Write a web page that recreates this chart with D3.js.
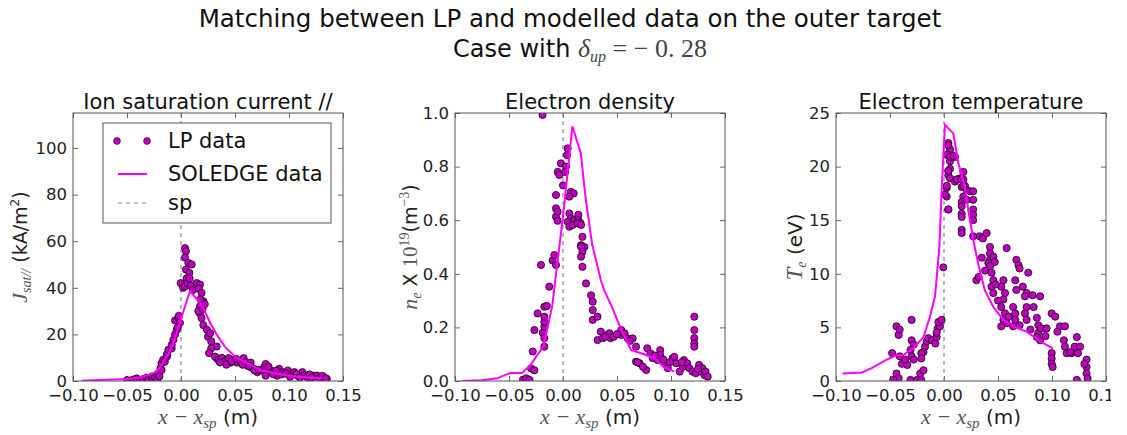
<!DOCTYPE html>
<html><head><meta charset="utf-8">
<script src="https://cdn.jsdelivr.net/npm/d3@7"></script>
<style>body{margin:0;background:#fff}svg{display:block}</style>
</head><body>
<svg id="c" width="1127" height="435"></svg>
<script>
// ---------------- DATA ----------------
const xTicks = [-0.10, -0.05, 0.00, 0.05, 0.10, 0.15];
const jsatTicks = [0, 20, 40, 60, 80, 100];
const neTicks = [0.0, 0.2, 0.4, 0.6, 0.8, 1.0];
const teTicks = [0, 5, 10, 15, 20, 25];
const panelTitles = ["Ion saturation current //", "Electron density", "Electron temperature"];
const legendLabels = ["LP data", "SOLEDGE data", "sp"];

// LP probe data, ion saturation current (x [m], kA/m^2)
const lpJsat = [
 [-0.050,0.4],[-0.046,0.3],[-0.044,0.6],[-0.041,1.1],[-0.038,0.4],[-0.035,0.8],[-0.032,1.4],[-0.030,0.5],
 [-0.027,1.9],[-0.026,1.1],[-0.024,1.5],[-0.022,0.6],[-0.021,3.3],[-0.020,2.0],[-0.019,5.5],[-0.018,4.7],
 [-0.018,7.6],[-0.0165,9.1],[-0.015,8.3],[-0.013,10.5],[-0.013,11.5],[-0.0117,13.4],[-0.0086,14],[-0.0086,15.5],
 [-0.007,17.7],[-0.0055,20],[-0.004,22],[-0.0055,26],[-0.0025,27],[-0.001,25],[-0.003,23],[-0.002,28],
 [-0.0003,42],[0.002,40],[0.0037,57],[0.0046,55.7],[0.0037,53],[0.0068,50.7],[0.0099,50],[0.0046,47.8],
 [0.0077,46.4],[0.0052,44],[0.0037,40.6],[0.006,42],[0.008,44],[0.009,41],[0.011,39],[0.0145,42],
 [0.0176,41.4],[0.0165,39.6],[0.019,37.8],[0.0207,34.2],[0.0176,32],[0.0176,29],[0.019,27],[0.0207,24],
 [0.016,30],[0.020,31],[0.022,33],[0.018,35],[0.024,22],[0.025,19],[0.027,20.5],[0.028,17],
 [0.033,14.8],[0.028,14],[0.026,12],[0.033,9.8],[0.038,9.8],[0.0315,10.5],[0.0346,9.1],[0.0377,9.8],
 [0.0408,8.4],[0.044,9.8],[0.046,7.9],[0.049,9.1],[0.052,7.9],[0.055,8.6],[0.058,9.8],[0.060,7.9],
 [0.0614,6.6],[0.0645,5.9],[0.0645,7.9],[0.0676,5.2],[0.0707,3.8],[0.074,4.5],[0.077,5.9],[0.0784,7.3],
 [0.080,5.2],[0.083,4.5],[0.0784,2.3],[0.086,3.8],[0.089,2.3],[0.091,5.2],[0.094,3.8],[0.099,4.5],
 [0.102,3.1],[0.105,3.8],[0.108,2.3],[0.1125,3.8],[0.114,2.3],[0.117,1.6],[0.123,2.3],[0.126,2.3],
 [0.129,1.6],[0.132,1.6],[0.135,0.9],[0.036,8.0],[0.042,7.0],[0.047,8.5],[0.051,9.5],[0.057,7.0],
 [0.063,6.5],[0.068,4.5],[0.072,4.8],[0.081,6.2],[0.085,3.0],[0.088,4.5],[0.093,2.8],[0.097,3.2],
 [0.101,1.8],[0.107,3.0],[0.110,1.5],[0.119,2.8],[0.121,1.5],[0.128,1.0],[0.131,2.2],[0.134,1.2]
];
// SOLEDGE model, ion saturation current
const solJsat = [
 [-0.092,0.1],[-0.070,0.5],[-0.050,0.9],[-0.040,1.4],[-0.030,2.6],[-0.0225,4.0],[-0.018,6.9],[-0.013,10.5],
 [-0.009,14],[-0.005,19],[-0.001,25],[0.003,31],[0.0083,38.5],[0.016,34.5],[0.021,31],[0.027,25],
 [0.033,20],[0.041,14.5],[0.050,10.5],[0.064,7.0],[0.075,4.5],[0.090,3.0],[0.105,1.9],[0.120,1.5],[0.131,1.2]
];

// LP probe data, electron density (x [m], 1e19 m^-3)
const lpNe = [
 [-0.037,0.005],[-0.034,0.01],[-0.031,0.004],[-0.0296,0.047],[-0.0265,0.04],[-0.028,0.11],[-0.0265,0.19],[-0.0235,0.252],
 [-0.0204,0.433],[-0.019,0.993],[-0.0188,0.18],[-0.0173,0.16],[-0.0173,0.128],[-0.0173,0.203],[-0.0173,0.22],[-0.0173,0.24],
 [-0.0173,0.277],[-0.015,0.28],[-0.0127,0.352],[-0.0096,0.45],[-0.008,0.47],[-0.0065,0.433],[-0.0065,0.613],[-0.005,0.598],
 [-0.0065,0.644],[-0.005,0.632],[-0.0065,0.694],[-0.0049,0.78],[-0.0034,0.769],[-0.0019,0.812],[0.0028,0.80],[0.0037,0.843],
 [0.0043,0.868],[0.0074,0.706],[0.0099,0.70],[0.0059,0.688],[0.0059,0.625],[0.0074,0.607],[0.0043,0.594],[0.0059,0.576],
 [0.0105,0.60],[0.0142,0.62],[0.0142,0.60],[0.016,0.59],[0.009,0.582],[0.0136,0.588],[0.0167,0.582],[0.018,0.538],
 [0.0167,0.507],[0.0198,0.50],[0.0167,0.501],[0.018,0.482],[0.0167,0.464],[0.018,0.426],[0.0213,0.364],[0.026,0.32],
 [0.0275,0.296],[0.0275,0.265],[0.0275,0.228],[0.032,0.24],[0.035,0.184],[0.032,0.153],[0.037,0.16],[0.041,0.172],
 [0.044,0.16],[0.043,0.178],[0.047,0.165],[0.054,0.19],[0.054,0.172],[0.057,0.178],[0.060,0.159],[0.0645,0.159],
 [0.0676,0.128],[0.0676,0.072],[0.071,0.066],[0.077,0.041],[0.074,0.053],[0.078,0.122],[0.081,0.103],[0.083,0.085],
 [0.0877,0.078],[0.090,0.115],[0.090,0.097],[0.095,0.066],[0.097,0.048],[0.1015,0.085],[0.103,0.09],[0.105,0.066],
 [0.108,0.035],[0.111,0.053],[0.112,0.078],[0.115,0.066],[0.117,0.048],[0.120,0.035],[0.1216,0.24],[0.1216,0.19],
 [0.1216,0.16],[0.1216,0.14],[0.1216,0.128],[0.123,0.029],[0.126,0.06],[0.128,0.035],[0.129,0.048],[0.131,0.022],
 [0.132,0.035],[0.134,0.016],[0.039,0.165],[0.050,0.175],[0.062,0.15],[0.069,0.07],[0.085,0.095],[0.093,0.08],
 [0.099,0.07],[0.110,0.07],[0.125,0.045],[0.0,0.73],[0.002,0.78]
];
// SOLEDGE model, electron density
const solNe = [
 [-0.094,0.0],[-0.075,0.003],[-0.061,0.01],[-0.049,0.03],[-0.038,0.03],[-0.030,0.06],[-0.018,0.13],[-0.010,0.28],
 [-0.004,0.48],[0.001,0.65],[0.0087,0.95],[0.0165,0.85],[0.021,0.68],[0.027,0.51],[0.035,0.377],[0.038,0.34],
 [0.046,0.27],[0.054,0.19],[0.063,0.116],[0.075,0.10],[0.084,0.086],[0.094,0.05],[0.103,0.035]
];

// LP probe data, electron temperature (x [m], eV)
const lpTe = [
 [-0.048,2.6],[-0.044,5.1],[-0.042,4.3],[-0.041,4.8],[-0.041,2.3],[-0.039,1.6],[-0.044,0.7],[-0.042,0.25],
 [-0.047,0.1],[-0.030,5.7],[-0.030,3.8],[-0.028,3.4],[-0.031,2.9],[-0.030,2.3],[-0.028,2.0],[-0.031,0.1],
 [-0.025,0.1],[-0.022,0.7],[-0.021,0.1],[-0.019,1.0],[-0.0176,3.2],[-0.019,2.7],[-0.016,3.7],[-0.0145,4.0],
 [-0.011,3.8],[-0.008,3.5],[-0.0068,4.1],[-0.0059,4.9],[-0.0037,5.1],[-0.0052,5.5],[-0.0022,5.7],[-0.0068,4.5],
 [-0.021,2.6],[-0.021,2.1],[-0.034,1.5],[-0.036,2.0],[-0.0006,10.6],
 [0.004,22.2],[0.0056,21.6],[0.004,21.1],[0.0102,20.9],[0.0056,20.5],[0.0056,19.8],[0.004,19.2],[0.0056,18.9],
 [0.0025,18.0],[0.0025,17.2],[0.004,16.0],[0.0102,18.6],[0.0148,18.9],[0.0179,19.5],[0.0179,18.8],[0.0164,18.1],
 [0.0194,18.2],[0.021,17.8],[0.0179,17.2],[0.0164,16.7],[0.0164,16.3],[0.0164,15.6],[0.0164,15.3],[0.0164,14.1],
 [0.0164,13.8],[0.024,17.7],[0.027,17.7],[0.027,16.9],[0.027,16.0],[0.027,15.5],[0.027,15.0],[0.033,13.5],
 [0.036,13.3],[0.0395,13.8],[0.0426,12.5],[0.0426,11.9],[0.0426,11.3],[0.044,11.0],[0.041,11.0],[0.058,12.4],
 [0.067,11.3],[0.069,10.8],[0.027,13.5],[0.0457,11.6],[0.047,11.1],[0.0426,10.7],[0.044,10.1],[0.0457,9.4],
 [0.030,9.4],[0.032,9.7],[0.044,8.8],[0.0457,8.2],[0.055,9.4],[0.053,8.8],[0.0565,8.2],[0.055,7.6],
 [0.053,6.9],[0.0565,6.3],[0.055,5.7],[0.058,5.4],[0.053,5.1],[0.070,10.5],[0.066,9.4],[0.067,8.5],
 [0.073,8.8],[0.0765,8.2],[0.078,10.1],[0.075,7.9],[0.064,6.9],[0.066,6.3],[0.066,5.7],[0.064,5.1],
 [0.0765,6.9],[0.075,6.3],[0.0765,5.7],[0.083,6.9],[0.089,7.9],[0.086,5.9],[0.0873,5.2],[0.0873,4.5],
 [0.086,4.1],[0.089,3.8],[0.090,4.9],[0.095,4.9],[0.0997,6.3],[0.103,6.0],[0.0997,2.6],[0.0997,2.1],
 [0.0997,1.6],[0.1006,1.3],[0.1074,5.1],[0.112,5.1],[0.111,3.8],[0.112,3.2],[0.1136,2.6],[0.118,2.6],
 [0.121,3.2],[0.123,4.1],[0.126,3.2],[0.124,2.6],[0.123,0.1],[0.132,2.0],[0.132,1.3],[0.132,0.7],
 [0.133,0.25],[0.130,1.6],[0.0025,21.1],[0.004,22.0],[0.004,19.6],[0.0056,20.9],[0.0086,21.0],[0.0025,18.2],
 [0.004,16.0],[0.001,17.4],[0.0117,18.8],[0.016,18.8],[0.018,18.2],[0.021,16.9],[0.035,11.5],[0.038,10.3],
 [0.048,9.0],[0.050,7.5],[0.060,6.0],[0.070,5.2],[0.080,4.8],[0.082,8.0],[0.094,4.2],[0.105,4.6],[0.117,2.7]
];
// SOLEDGE model, electron temperature
const solTe = [
 [-0.094,0.7],[-0.076,0.8],[-0.067,1.2],[-0.053,2.0],[-0.044,2.4],[-0.038,2.4],[-0.028,3.1],[-0.019,4.1],
 [-0.013,6.0],[-0.0083,7.9],[-0.0043,12.5],[-0.0022,17.8],[0.0009,23.9],[0.0056,23.4],[0.0086,23.1],[0.0133,20.3],
 [0.0194,18.2],[0.021,16.9],[0.027,13.2],[0.032,10.8],[0.038,8.4],[0.0457,6.9],[0.055,5.7],[0.066,5.0],
 [0.0766,4.6],[0.089,3.7],[0.101,3.05]
];

// ---------------- DRAWING ----------------
const svg = d3.select("#c");
const SANS = "DejaVu Sans", SERIF = "Liberation Serif";
const MAG = "#ff00ff", PT_FILL = "#bf00bf";
const axTop = 113, axW = 270, axH = 268;
const panels = [
  {left: 73,  lp: lpJsat, sol: solJsat, yDom: [0, 115], yTicks: jsatTicks, yFmt: d3.format("d")},
  {left: 455, lp: lpNe,   sol: solNe,   yDom: [0, 1],   yTicks: neTicks,   yFmt: d3.format(".1f")},
  {left: 836, lp: lpTe,   sol: solTe,   yDom: [0, 25],  yTicks: teTicks,   yFmt: d3.format("d")}
];

const defs = svg.append("defs");
defs.append("clipPath").attr("id", "figclip").append("rect")
  .attr("x", 0).attr("y", 0).attr("width", 1111).attr("height", 435);
const root = svg.append("g").attr("clip-path", "url(#figclip)");

function rich(sel, parts) {
  let cur = 0;
  parts.forEach(p => {
    const ts = sel.append("tspan").text(p.t)
      .attr("font-family", p.fam || SANS)
      .attr("font-size", p.size)
      .attr("font-style", p.it ? "italic" : "normal");
    const s = p.shift || 0;
    if (s !== cur) { ts.attr("dy", s - cur); cur = s; }
    if (p.dx) ts.attr("dx", p.dx);
    if (p.fill) ts.attr("fill", p.fill);
  });
}

panels.forEach((p, i) => {
  const x = d3.scaleLinear().domain([-0.10, 0.15]).range([p.left, p.left + axW]);
  const y = d3.scaleLinear().domain(p.yDom).range([axTop + axH, axTop]);
  const g = root.append("g");

  defs.append("clipPath").attr("id", "clip" + i).append("rect")
    .attr("x", p.left).attr("y", axTop).attr("width", axW).attr("height", axH);

  g.append("g").attr("transform", `translate(0,${axTop + axH})`)
    .call(d3.axisBottom(x).tickValues(xTicks).tickSize(-5).tickPadding(8).tickFormat(d3.format(".2f")));
  g.append("g").attr("transform", `translate(0,${axTop})`)
    .call(d3.axisTop(x).tickValues(xTicks).tickSize(-5).tickFormat(""));
  g.append("g").attr("transform", `translate(${p.left},0)`)
    .call(d3.axisLeft(y).tickValues(p.yTicks).tickSize(-5).tickPadding(6).tickFormat(p.yFmt));
  g.append("g").attr("transform", `translate(${p.left + axW},0)`)
    .call(d3.axisRight(y).tickValues(p.yTicks).tickSize(-5).tickFormat(""));
  g.selectAll(".domain").remove();
  g.selectAll(".tick line").attr("stroke", "#666");
  g.selectAll(".tick text").attr("font-family", SANS).attr("font-size", 16.5).attr("fill", "#222");

  const plot = g.append("g").attr("clip-path", `url(#clip${i})`);
  plot.append("line").attr("x1", x(0)).attr("x2", x(0)).attr("y1", axTop).attr("y2", axTop + axH)
    .attr("stroke", "#888").attr("stroke-width", 1.2).attr("stroke-dasharray", "4,4");
  plot.selectAll("circle").data(p.lp).join("circle")
    .attr("cx", d => x(d[0])).attr("cy", d => y(d[1])).attr("r", 3.6)
    .attr("fill", PT_FILL).attr("stroke", "#1a001a").attr("stroke-width", 0.8);
  plot.append("path").datum(p.sol)
    .attr("d", d3.line().x(d => x(d[0])).y(d => y(d[1])))
    .attr("fill", "none").attr("stroke", MAG).attr("stroke-width", 2);

  g.append("rect").attr("x", p.left).attr("y", axTop).attr("width", axW).attr("height", axH)
    .attr("fill", "none").attr("stroke", "#555").attr("stroke-width", 1);

  g.append("text").attr("x", p.left + axW / 2).attr("y", 109).attr("text-anchor", "middle")
    .attr("font-family", SANS).attr("font-size", 21).attr("fill", "#111").text(panelTitles[i]);

  const xl = g.append("text").attr("x", p.left + axW / 2).attr("y", 424).attr("text-anchor", "middle").attr("fill", "#333");
  rich(xl, [
    {t: "x − x", fam: SERIF, size: 22, it: true, fill: "#555"},
    {t: "sp", fam: SERIF, size: 15, it: true, shift: 4, fill: "#555"},
    {t: " (m)", fam: SANS, size: 20, shift: 0, fill: "#222"}
  ]);
});

// y labels
const yl1 = root.append("text").attr("transform", "translate(27,247) rotate(-90)").attr("text-anchor", "middle");
rich(yl1, [
  {t: "J", fam: SERIF, size: 22, it: true, fill: "#555"},
  {t: "sat//", fam: SERIF, size: 14, it: true, shift: 4, fill: "#555"},
  {t: "  (kA/m", fam: SANS, size: 19, shift: 0, fill: "#222"},
  {t: "2", fam: SANS, size: 12, shift: -8, fill: "#222"},
  {t: ")", fam: SANS, size: 19, shift: 0, fill: "#222"}
]);
const yl2 = root.append("text").attr("transform", "translate(417,247) rotate(-90)").attr("text-anchor", "middle");
rich(yl2, [
  {t: "n", fam: SERIF, size: 22, it: true, fill: "#555"},
  {t: "e", fam: SERIF, size: 14, it: true, shift: 4, fill: "#555"},
  {t: " X ", fam: SANS, size: 19, shift: 0, fill: "#222"},
  {t: "10", fam: SERIF, size: 21, fill: "#555"},
  {t: "19", fam: SERIF, size: 14, shift: -8, fill: "#555"},
  {t: "(m", fam: SANS, size: 19, shift: 0, fill: "#222"},
  {t: "−3", fam: SERIF, size: 14, shift: -8, fill: "#555"},
  {t: ")", fam: SANS, size: 19, shift: 0, fill: "#222"}
]);
const yl3 = root.append("text").attr("transform", "translate(802,247) rotate(-90)").attr("text-anchor", "middle");
rich(yl3, [
  {t: "T", fam: SERIF, size: 23, it: true, fill: "#555"},
  {t: "e", fam: SERIF, size: 14, it: true, shift: 4, fill: "#555"},
  {t: "  (eV)", fam: SANS, size: 20, shift: 0, fill: "#222"}
]);

// legend (first panel)
const lg = root.append("g");
lg.append("rect").attr("x", 103).attr("y", 123).attr("width", 228).attr("height", 100)
  .attr("fill", "#fff").attr("stroke", "#555").attr("stroke-width", 1);
lg.selectAll("circle").data([117, 147]).join("circle")
  .attr("cx", d => d).attr("cy", 141).attr("r", 3.4).attr("fill", PT_FILL).attr("stroke", "#1a001a").attr("stroke-width", 0.6);
lg.append("line").attr("x1", 118).attr("x2", 147).attr("y1", 174).attr("y2", 174).attr("stroke", MAG).attr("stroke-width", 2);
lg.append("line").attr("x1", 118).attr("x2", 147).attr("y1", 203).attr("y2", 203)
  .attr("stroke", "#888").attr("stroke-width", 1.2).attr("stroke-dasharray", "4,4");
lg.selectAll("text").data(legendLabels).join("text")
  .attr("x", 168).attr("y", (d, i) => [148, 181, 210][i])
  .attr("font-family", SANS).attr("font-size", 21).attr("fill", "#111").text(d => d);

// figure title
root.append("text").attr("x", 570).attr("y", 27).attr("text-anchor", "middle")
  .attr("font-family", SANS).attr("font-size", 24.5).attr("fill", "#111")
  .text("Matching between LP and modelled data on the outer target");
const t2 = root.append("text").attr("x", 580).attr("y", 57).attr("text-anchor", "middle").attr("fill", "#111");
rich(t2, [
  {t: "Case with ", fam: SANS, size: 24, fill: "#111"},
  {t: "δ", fam: SERIF, size: 26, it: true, fill: "#444"},
  {t: "up", fam: SERIF, size: 16, it: true, shift: 5, fill: "#444"},
  {t: " = − 0. 28", fam: SERIF, size: 26, shift: 0, fill: "#444"}
]);
</script>
</body></html>
